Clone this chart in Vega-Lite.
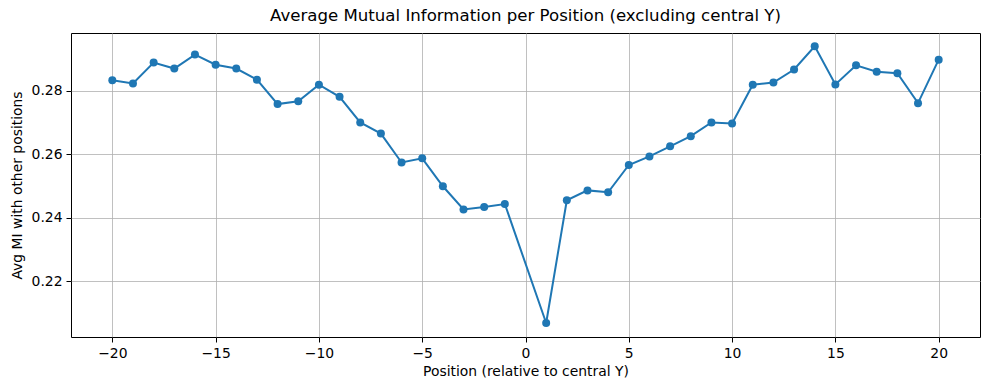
{
  "$schema": "https://vega.github.io/schema/vega-lite/v6.json",
  "autosize": {"type": "none"},
  "width": 909,
  "height": 304,
  "padding": {"left": 71, "top": 33, "right": 9, "bottom": 53},
  "background": "white",
  "config": {
    "font": "DejaVu Sans",
    "view": {"stroke": "black", "strokeWidth": 1},
    "axis": {
      "domain": false,
      "grid": true,
      "gridColor": "#b0b0b0",
      "gridWidth": 0.8,
      "tickColor": "black",
      "tickSize": 5,
      "tickWidth": 1,
      "labelColor": "black",
      "titleColor": "black",
      "labelFontSize": 13.9,
      "titleFontSize": 13.9,
      "titleFontWeight": "normal",
      "labelPadding": 4
    },
    "title": {"fontSize": 16.6, "fontWeight": "normal", "color": "black", "offset": 8}
  },
  "title": {"text": "Average Mutual Information per Position (excluding central Y)", "anchor": "middle"},
  "data": {
    "values": [
      {"pos": -20, "mi": 0.2833},
      {"pos": -19, "mi": 0.2823},
      {"pos": -18, "mi": 0.2889},
      {"pos": -17, "mi": 0.2870},
      {"pos": -16, "mi": 0.2914},
      {"pos": -15, "mi": 0.2882},
      {"pos": -14, "mi": 0.2870},
      {"pos": -13, "mi": 0.2835},
      {"pos": -12, "mi": 0.2758},
      {"pos": -11, "mi": 0.2767},
      {"pos": -10, "mi": 0.2819},
      {"pos": -9, "mi": 0.2781},
      {"pos": -8, "mi": 0.2700},
      {"pos": -7, "mi": 0.2665},
      {"pos": -6, "mi": 0.2574},
      {"pos": -5, "mi": 0.2587},
      {"pos": -4, "mi": 0.2499},
      {"pos": -3, "mi": 0.2426},
      {"pos": -2, "mi": 0.2434},
      {"pos": -1, "mi": 0.2443},
      {"pos": 1, "mi": 0.2068},
      {"pos": 2, "mi": 0.2455},
      {"pos": 3, "mi": 0.2486},
      {"pos": 4, "mi": 0.2480},
      {"pos": 5, "mi": 0.2566},
      {"pos": 6, "mi": 0.2593},
      {"pos": 7, "mi": 0.2625},
      {"pos": 8, "mi": 0.2657},
      {"pos": 9, "mi": 0.2700},
      {"pos": 10, "mi": 0.2697},
      {"pos": 11, "mi": 0.2819},
      {"pos": 12, "mi": 0.2826},
      {"pos": 13, "mi": 0.2867},
      {"pos": 14, "mi": 0.2940},
      {"pos": 15, "mi": 0.2820},
      {"pos": 16, "mi": 0.2880},
      {"pos": 17, "mi": 0.2860},
      {"pos": 18, "mi": 0.2855},
      {"pos": 19, "mi": 0.2761},
      {"pos": 20, "mi": 0.2898}
    ]
  },
  "encoding": {
    "x": {
      "field": "pos",
      "type": "quantitative",
      "scale": {"domain": [-22, 22], "nice": false, "zero": false},
      "axis": {"values": [-20, -15, -10, -5, 0, 5, 10, 15, 20], "title": "Position (relative to central Y)", "titlePadding": 5}
    },
    "y": {
      "field": "mi",
      "type": "quantitative",
      "scale": {"domain": [0.2024, 0.2982], "nice": false, "zero": false},
      "axis": {"values": [0.22, 0.24, 0.26, 0.28], "format": ".2f", "title": "Avg MI with other positions", "titlePadding": 7}
    }
  },
  "layer": [
    {"mark": {"type": "line", "color": "#1f77b4", "strokeWidth": 2}},
    {"mark": {"type": "point", "filled": true, "opacity": 1, "color": "#1f77b4", "size": 64}}
  ]
}
